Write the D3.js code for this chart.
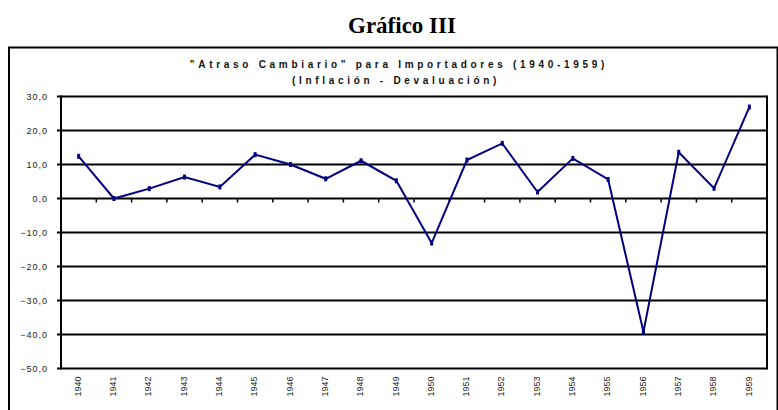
<!DOCTYPE html>
<html>
<head>
<meta charset="utf-8">
<script src="https://cdn.jsdelivr.net/npm/d3@7"></script>
<style>
  body { margin: 0; background: #fff; }
  svg { display: block; }
</style>
</head>
<body>
<svg id="chart" width="778" height="410"></svg>
<script>
// datos
var years = ["1940","1941","1942","1943","1944","1945","1946","1947","1948","1949",
             "1950","1951","1952","1953","1954","1955","1956","1957","1958","1959"];
var atraso = [12.4, 0.0, 2.9, 6.3, 3.4, 12.9, 10.0, 5.8, 11.1, 5.2,
              -13.1, 11.3, 16.2, 1.9, 11.8, 5.6, -39.2, 13.6, 3.0, 26.9];
var yTicks = [30, 20, 10, 0, -10, -20, -30, -40, -50];

var svg = d3.select("#chart");
var pLeft = 61, pRight = 767, pTop = 96.5, pBottom = 368.5;

var x = d3.scaleBand().domain(years).range([pLeft, pRight]);
var y = d3.scaleLinear().domain([-50, 30]).range([pBottom, pTop]);

// titulo
svg.append("text")
  .attr("x", 402).attr("y", 33)
  .attr("text-anchor", "middle")
  .style("font-family", "'Liberation Serif', 'Times New Roman', serif")
  .style("font-weight", "bold")
  .style("font-size", "23px")
  .text("Gráfico III");

// marco exterior
svg.append("path")
  .attr("d", "M9,411 V47.5 H777.5 V411")
  .attr("fill", "none").attr("stroke", "#000").attr("stroke-width", 2);

var sub = svg.append("g")
  .style("font-family", "'Liberation Sans', Arial, sans-serif")
  .style("font-weight", "bold")
  .style("font-size", "10px")
  .style("letter-spacing", "3.7px")
  .attr("fill", "#111");
sub.append("text").attr("x", 399).attr("y", 68).attr("text-anchor", "middle")
  .text("\"Atraso Cambiario\" para Importadores (1940-1959)");
sub.append("text").attr("x", 396).attr("y", 84).attr("text-anchor", "middle")
  .text("(Inflación - Devaluación)");

// lineas de division
svg.append("g").selectAll("line").data(yTicks).enter()
  .append("line")
  .attr("x1", pLeft - 4).attr("x2", pRight)
  .attr("y1", function(d) { return y(d); })
  .attr("y2", function(d) { return y(d); })
  .attr("stroke", "#000").attr("stroke-width", 2);

// eje y
var yAxis = d3.axisLeft(y).tickValues(yTicks).tickSize(0).tickPadding(13)
  .tickFormat(function(d) { return d3.format(".1f")(d).replace(".", ","); });
var gy = svg.append("g").attr("transform", "translate(" + pLeft + ",0)").call(yAxis);
gy.select(".domain").remove();
gy.selectAll("text")
  .style("font-family", "'Liberation Sans', Arial, sans-serif")
  .style("font-size", "9px")
  .style("letter-spacing", "1px")
  .attr("fill", "#222");

svg.append("line").attr("x1", pLeft).attr("x2", pLeft).attr("y1", pTop - 1).attr("y2", pBottom + 1)
  .attr("stroke", "#000").attr("stroke-width", 2);
svg.append("line").attr("x1", pRight).attr("x2", pRight).attr("y1", pTop - 1).attr("y2", pBottom + 1)
  .attr("stroke", "#000").attr("stroke-width", 2);

// marcas del eje de categorias sobre el cero
svg.append("g").selectAll("line").data(years.slice(1)).enter()
  .append("line")
  .attr("x1", function(d) { return x(d); })
  .attr("x2", function(d) { return x(d); })
  .attr("y1", y(0)).attr("y2", y(0) + 4)
  .attr("stroke", "#000").attr("stroke-width", 1.5);

// etiquetas de anios
svg.append("g").selectAll("text").data(years).enter()
  .append("text")
  .attr("transform", function(d) {
    return "translate(" + (x(d) + x.bandwidth() / 2 - 1) + "," + (pBottom + 8) + ") rotate(-90)";
  })
  .attr("text-anchor", "end")
  .attr("dy", "0.35em")
  .style("font-family", "'Liberation Sans', Arial, sans-serif")
  .style("font-size", "9px")
  .attr("fill", "#222")
  .text(function(d) { return d; });

// serie
var pts = years.map(function(d, i) { return [x(d) + x.bandwidth() / 2, y(atraso[i])]; });
svg.append("path")
  .attr("d", d3.line()(pts))
  .attr("fill", "none").attr("stroke", "#000080").attr("stroke-width", 2);
svg.append("g").selectAll("rect").data(pts).enter()
  .append("rect")
  .attr("x", function(p) { return p[0] - 1.5; })
  .attr("y", function(p) { return p[1] - 2.5; })
  .attr("width", 3).attr("height", 5)
  .attr("fill", "#000080");
</script>
</body>
</html>
